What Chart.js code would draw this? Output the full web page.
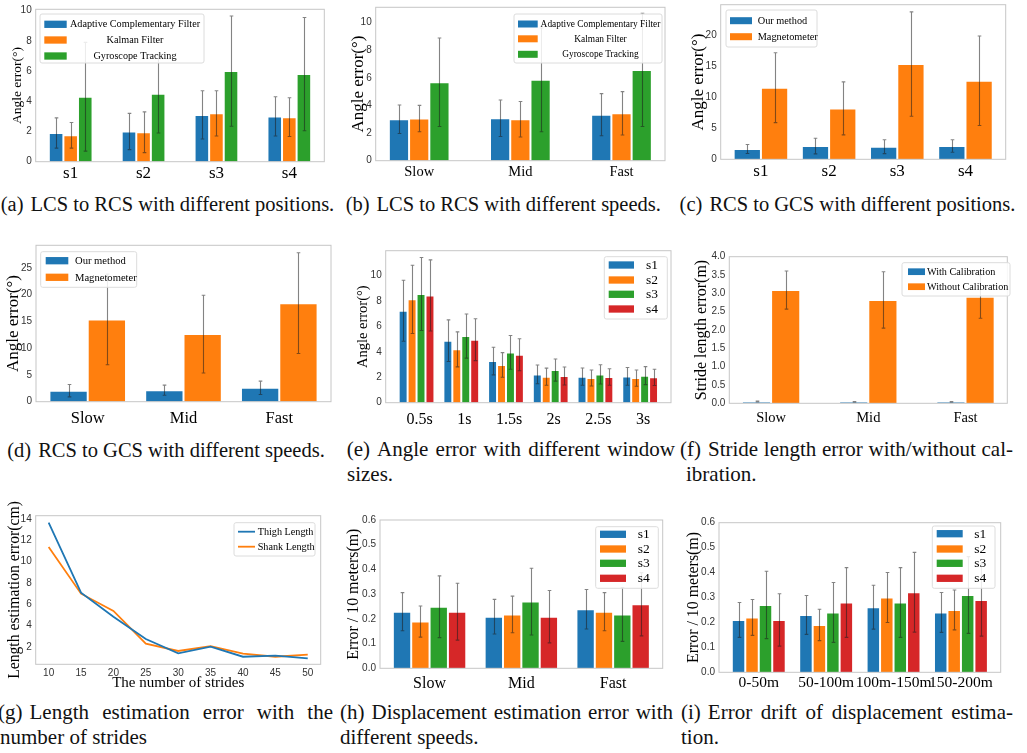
<!DOCTYPE html>
<html><head><meta charset="utf-8">
<script src="https://cdn.jsdelivr.net/npm/chart.js@4.4.1/dist/chart.umd.min.js"></script>
<style>
html,body{margin:0;padding:0;background:#fff;}
body{width:1027px;height:753px;overflow:hidden;position:relative;}
canvas{position:absolute;}
.cap{position:absolute;font-family:"Liberation Serif","Times New Roman",serif;font-size:21px;line-height:1;color:#111;white-space:nowrap;}
.c{text-align:center;width:400px;font-size:20.5px;}
.j{text-align:justify;text-align-last:justify;}
.l{margin-right:7px;}
</style></head><body>

<div class="cap c" style="left:-32.5px;top:193.8px"><span class="l">(a)</span>LCS to RCS with different positions.</div>
<div class="cap c" style="left:303.3px;top:193.8px"><span class="l">(b)</span>LCS to RCS with different speeds.</div>
<div class="cap c" style="left:647.5px;top:193.8px"><span class="l">(c)</span>RCS to GCS with different positions.</div>

<div class="cap c" style="left:-34px;top:439.8px"><span class="l">(d)</span>RCS to GCS with different speeds.</div>
<div class="cap j" style="left:346.7px;top:439.4px;width:328.3px"><span class="l">(e)</span>Angle error with different window</div>
<div class="cap" style="left:347px;top:464.4px">sizes.</div>
<div class="cap j" style="left:680px;top:439.4px;width:333px"><span class="l">(f)</span>Stride length error with/without cal-</div>
<div class="cap" style="left:686px;top:464.4px">ibration.</div>

<div class="cap j" style="left:-2px;top:702.4px;width:335px"><span class="l">(g)</span>Length estimation error with the</div>
<div class="cap" style="left:0px;top:727.4px">number of strides</div>
<div class="cap j" style="left:340px;top:702.4px;width:333px"><span class="l">(h)</span>Displacement estimation error with</div>
<div class="cap" style="left:340px;top:727.4px">different speeds.</div>
<div class="cap j" style="left:681px;top:702.4px;width:332px"><span class="l">(i)</span>Error drift of displacement estima-</div>
<div class="cap" style="left:681px;top:727.4px">tion.</div>

<script>
// ---------------- DATA ----------------
const posLabels = ['s1', 's2', 's3', 's4'];
const speedLabels = ['Slow', 'Mid', 'Fast'];
const windowLabels = ['0.5s', '1s', '1.5s', '2s', '2.5s', '3s'];
const driftLabels = ['0-50m', '50-100m', '100m-150m', '150-200m'];
const strideCounts = [10, 15, 20, 25, 30, 35, 40, 45, 50];

const filterNames = ['Adaptive Complementary Filter', 'Kalman Filter', 'Gyroscope Tracking'];
const headingNames = ['Our method', 'Magnetometer'];
const subjectNames = ['s1', 's2', 's3', 's4'];
const calibNames = ['With Calibration', 'Without Calibration'];
const lengthNames = ['Thigh Length', 'Shank Length'];

// (a) LCS to RCS, positions
const aACF = [1.9, 2.0, 3.1, 3.0];     const aACFErr = [1.0, 1.2, 1.6, 1.3];
const aKF  = [1.75, 1.95, 3.2, 2.95];  const aKFErr  = [0.85, 1.35, 1.5, 1.28];
const aGT  = [4.3, 4.5, 6.0, 5.8];     const aGTErr  = [3.6, 2.6, 3.65, 3.75];
// (b) LCS to RCS, speeds
const bACF = [3.0, 3.07, 3.33];        const bACFErr = [1.03, 1.32, 1.52];
const bKF  = [3.05, 3.0, 3.43];        const bKFErr  = [0.95, 1.28, 1.57];
const bGT  = [5.68, 5.85, 6.57];       const bGTErr  = [3.2, 3.75, 4.1];
// (c) RCS to GCS, positions
const cOur = [1.66, 2.14, 2.04, 2.14]; const cOurErr = [0.72, 1.26, 1.12, 1.0];
const cMag = [11.53, 8.2, 15.34, 12.65]; const cMagErr = [5.63, 4.27, 8.4, 7.2];
// (d) RCS to GCS, speeds
const dOur = [2.05, 2.15, 2.6];        const dOurErr = [1.15, 0.94, 1.25];
const dMag = [15.36, 12.62, 18.4];     const dMagErr = [8.45, 7.25, 9.4];
// (e) window sizes
const eS1 = [7.24, 4.88, 3.28, 2.23, 2.05, 2.07]; const eS1Err = [2.4, 1.64, 1.09, 0.74, 0.68, 0.7];
const eS2 = [8.14, 4.2, 2.97, 2.05, 1.94, 1.94];  const eS2Err = [2.69, 1.38, 0.97, 0.67, 0.63, 0.64];
const eS3 = [8.56, 5.25, 3.96, 2.57, 2.23, 2.13]; const eS3Err = [2.87, 1.74, 1.33, 0.87, 0.76, 0.71];
const eS4 = [8.45, 4.96, 3.78, 2.1, 2.02, 2.0];   const eS4Err = [2.8, 1.65, 1.26, 0.71, 0.65, 0.64];
// (f) stride length error
const fWith = [0.05, 0.04, 0.04];      const fWithErr = [0.01, 0.01, 0.01];
const fWithout = [3.09, 2.82, 2.91];   const fWithoutErr = [0.52, 0.77, 0.59];
// (g) length estimation error
const gThigh = [13.66, 7.09, 4.84, 2.75, 1.41, 2.03, 1.09, 1.19, 0.94];
const gShank = [11.38, 7.0, 5.38, 2.31, 1.63, 2.09, 1.38, 1.09, 1.28];
// (h) displacement error, speeds
const hS1 = [0.229, 0.209, 0.239]; const hS1Err = [0.077, 0.07, 0.08];
const hS2 = [0.189, 0.218, 0.229]; const hS2Err = [0.063, 0.074, 0.077];
const hS3 = [0.249, 0.27, 0.218];  const hS3Err = [0.125, 0.135, 0.109];
const hS4 = [0.229, 0.209, 0.259]; const hS4Err = [0.115, 0.106, 0.128];
// (i) error drift
const iS1 = [0.21, 0.23, 0.261, 0.24];  const iS1Err = [0.07, 0.078, 0.088, 0.08];
const iS2 = [0.22, 0.19, 0.3, 0.25];    const iS2Err = [0.072, 0.063, 0.1, 0.08];
const iS3 = [0.27, 0.24, 0.28, 0.31];   const iS3Err = [0.135, 0.12, 0.14, 0.154];
const iS4 = [0.21, 0.28, 0.321, 0.29];  const iS4Err = [0.105, 0.14, 0.16, 0.145];

// ---------------- STYLE ----------------
const COL = { blue: '#1f77b4', orange: '#ff7f0e', green: '#2ca02c', red: '#d62728' };
const SERIF = '"Liberation Serif", "Times New Roman", serif';
const SANS = '"Liberation Sans", Arial, sans-serif';

const decorPlugin = {
  id: 'decor',
  afterDatasetsDraw(chart) {
    const o = chart.options.plugins.decor;
    const ctx = chart.ctx;
    const a = chart.chartArea;
    const ys = chart.scales.y;
    // error bars
    ctx.save();
    ctx.beginPath(); ctx.rect(a.left, a.top, a.right - a.left, a.bottom - a.top); ctx.clip();
    chart.data.datasets.forEach((ds, di) => {
      if (!ds.err) return;
      const meta = chart.getDatasetMeta(di);
      ctx.strokeStyle = 'rgba(30,30,30,0.55)';
      ctx.lineWidth = 1.1;
      meta.data.forEach((bar, i) => {
        const v = ds.data[i], e = ds.err[i];
        const x = Math.round(bar.x) + 0.5;
        const y1 = ys.getPixelForValue(v - e), y2 = ys.getPixelForValue(v + e);
        const cap = 1.8;
        ctx.beginPath();
        ctx.moveTo(x, y1); ctx.lineTo(x, y2);
        ctx.moveTo(x - cap, y1); ctx.lineTo(x + cap, y1);
        ctx.moveTo(x - cap, y2); ctx.lineTo(x + cap, y2);
        ctx.stroke();
      });
    });
    ctx.restore();
    // frame
    ctx.save();
    ctx.strokeStyle = '#c6c6c6';
    ctx.lineWidth = 1;
    ctx.strokeRect(a.left, a.top, a.right - a.left, a.bottom - a.top);
    ctx.restore();
    // legend
    const L = o.legend;
    if (!L) return;
    const ox = o.origin[0], oy = o.origin[1];
    ctx.save();
    const bx = L.box[0] - ox, by = L.box[1] - oy, bw = L.box[2] - L.box[0], bh = L.box[3] - L.box[1];
    ctx.beginPath();
    if (ctx.roundRect) ctx.roundRect(bx, by, bw, bh, 2); else ctx.rect(bx, by, bw, bh);
    ctx.fillStyle = 'rgba(255,255,255,0.85)';
    ctx.fill();
    ctx.strokeStyle = '#dcdcdc';
    ctx.lineWidth = 1;
    ctx.stroke();
    L.rows.forEach((ry, k) => {
      const ds = chart.data.datasets[k];
      const y = ry - oy;
      const px = L.patch[0] - ox;
      if (L.type === 'line') {
        ctx.strokeStyle = ds.borderColor;
        ctx.lineWidth = 1.8;
        ctx.beginPath(); ctx.moveTo(px, y); ctx.lineTo(px + L.patch[1], y); ctx.stroke();
      } else {
        ctx.fillStyle = ds.backgroundColor;
        ctx.fillRect(px, y - L.patch[2] / 2, L.patch[1], L.patch[2]);
      }
      ctx.fillStyle = '#000';
      ctx.font = L.size + 'px ' + SERIF;
      ctx.textBaseline = 'middle';
      ctx.textAlign = L.align;
      ctx.fillText(ds.label, L.textX - ox, y + 0.5);
    });
    ctx.restore();
  }
};

function makeCanvas(spec) {
  const cv = document.createElement('canvas');
  const left = spec.col[0], top = spec.top;
  const w = spec.col[1] - spec.col[0];
  const h = Math.ceil(spec.plot[3] - top + spec.hx);
  cv.width = w; cv.height = h;
  cv.style.left = left + 'px'; cv.style.top = top + 'px';
  cv.style.width = w + 'px'; cv.style.height = h + 'px';
  document.body.appendChild(cv);
  return { cv, w, h };
}

function commonScales(spec, geo) {
  const [pl, pt, pr, pb] = spec.plot;
  const yW = pl - spec.col[0];
  const xH = geo.h - (pb - spec.top);
  const t = spec.ytitle;
  return {
    padding: { left: 0, top: pt - spec.top, right: geo.w - (pr - spec.col[0]), bottom: 0 },
    y: {
      min: spec.ymin || 0, max: spec.ymax,
      grid: { display: false, drawTicks: false }, border: { display: false },
      ticks: {
        stepSize: spec.ystep, includeBounds: false, padding: 4,
        color: '#333', font: { family: SANS, size: 10 },
        callback: spec.yfmt ? (v) => v.toFixed(spec.yfmt) : (v) => String(v)
      },
      title: {
        display: true, text: t.text, color: '#000',
        font: { family: SERIF, size: t.size, lineHeight: 1 },
        padding: { top: t.cx - t.size / 2, bottom: 0 }
      },
      afterFit(s) { s.width = yW; s.paddingTop = 0; s.paddingBottom = 0; }
    },
    xH
  };
}

function barChart(spec, labels, series) {
  const geo = makeCanvas(spec);
  const cs = commonScales(spec, geo);
  const n = labels.length;
  const g = spec.group;
  const m = g / 2 + 0.05 * (n - 1 + g);
  const datasets = series.map((s) => ({
    label: s.label, data: s.data, err: s.err,
    backgroundColor: s.color,
    borderColor: 'rgba(255,255,255,0.35)', borderWidth: 1, borderSkipped: 'start'
  }));
  return new Chart(geo.cv, {
    type: 'bar',
    data: { labels, datasets },
    plugins: [decorPlugin],
    options: {
      responsive: false, animation: false, devicePixelRatio: 1,
      layout: { padding: cs.padding },
      datasets: { bar: { categoryPercentage: g, barPercentage: 1 } },
      plugins: {
        legend: { display: false }, tooltip: { enabled: false },
        decor: { origin: [spec.col[0], spec.top], legend: spec.legend }
      },
      scales: {
        x: {
          grid: { display: false, drawTicks: false }, border: { display: false },
          ticks: {
            color: '#000', font: { family: SERIF, size: spec.xsize },
            padding: spec.xpad, maxRotation: 0, minRotation: 0, autoSkip: false,
            labelOffset: spec.xoff || 0
          },
          afterBuildTicks(s) { s._startValue = -m; s._valueRange = n - 1 + 2 * m; },
          afterFit(s) { s.height = cs.xH; s.paddingLeft = 0; s.paddingRight = 0; }
        },
        y: cs.y
      }
    }
  });
}

// ---------------- PANELS ----------------
barChart({
  col: [0, 340], top: 0, plot: [35.7, 9.3, 324.3, 161.7], hx: 26,
  ymax: 10.09, ystep: 2, group: 0.6, xsize: 17, xpad: 2,
  ytitle: { text: 'Angle error(°)', size: 13.5, cx: 17 },
  legend: { box: [40, 14, 204, 63], rows: [24.3, 40, 56], patch: [44.3, 22.4, 7.3], textX: 135, align: 'center', size: 10.2 }
}, posLabels, [
  { label: filterNames[0], data: aACF, err: aACFErr, color: COL.blue },
  { label: filterNames[1], data: aKF, err: aKFErr, color: COL.orange },
  { label: filterNames[2], data: aGT, err: aGTErr, color: COL.green }
]);

barChart({
  col: [340, 680], top: 0, plot: [375.7, 7.3, 665, 160.7], hx: 26,
  ymax: 11.1, ystep: 2, group: 0.6, xsize: 14.5, xpad: 3,
  ytitle: { text: 'Angle error(°)', size: 17, cx: 18.5 },
  legend: { box: [514, 14, 662, 63], rows: [24, 38.8, 54.3], patch: [518, 19.7, 7], textX: 600.5, align: 'center', size: 9.4 }
}, speedLabels, [
  { label: filterNames[0], data: bACF, err: bACFErr, color: COL.blue },
  { label: filterNames[1], data: bKF, err: bKFErr, color: COL.orange },
  { label: filterNames[2], data: bGT, err: bGTErr, color: COL.green }
]);

barChart({
  col: [680, 1027], top: 0, plot: [720.7, 4.7, 1005.7, 159.3], hx: 26,
  ymax: 24.9, ystep: 5, group: 0.8, xsize: 17, xpad: 2,
  ytitle: { text: 'Angle error(°)', size: 17, cx: 18.5 },
  legend: { box: [726, 10, 817, 47], rows: [20.7, 36.7], patch: [730, 22, 7], textX: 757.7, align: 'left', size: 10.3 }
}, posLabels, [
  { label: headingNames[0], data: cOur, err: cOurErr, color: COL.blue },
  { label: headingNames[1], data: cMag, err: cMagErr, color: COL.orange }
]);

barChart({
  col: [0, 340], top: 235, plot: [36, 245.3, 331, 401.7], hx: 28,
  ymax: 29.2, ystep: 5, group: 0.8, xsize: 16.5, xpad: 7,
  ytitle: { text: 'Angle error(°)', size: 17, cx: 13.5 },
  legend: { box: [40.7, 251.7, 136.7, 287.3], rows: [260.7, 277.3], patch: [45.7, 22.6, 7.3], textX: 75, align: 'left', size: 10.6 }
}, speedLabels, [
  { label: headingNames[0], data: dOur, err: dOurErr, color: COL.blue },
  { label: headingNames[1], data: dMag, err: dMagErr, color: COL.orange }
]);

barChart({
  col: [340, 680], top: 235, plot: [385.7, 250.7, 671, 402.7], hx: 28,
  ymax: 11.97, ystep: 2, group: 0.8, xsize: 16, xpad: 7, xoff: 3,
  ytitle: { text: 'Angle error(°)', size: 14.5, cx: 23.5 },
  legend: { box: [604.3, 256.7, 667.3, 319], rows: [265, 280, 294.3, 309], patch: [608.7, 25.3, 7.3], textX: 646, align: 'left', size: 13.5 }
}, windowLabels, [
  { label: subjectNames[0], data: eS1, err: eS1Err, color: COL.blue },
  { label: subjectNames[1], data: eS2, err: eS2Err, color: COL.orange },
  { label: subjectNames[2], data: eS3, err: eS3Err, color: COL.green },
  { label: subjectNames[3], data: eS4, err: eS4Err, color: COL.red }
]);

barChart({
  col: [680, 1027], top: 235, plot: [729.3, 256.7, 1007.3, 403.3], hx: 28,
  ymax: 4.0, ystep: 0.5, yfmt: 1, group: 0.6, xsize: 14.5, xpad: 6,
  ytitle: { text: 'Stride length error(m)', size: 16, cx: 21.5 },
  legend: { box: [902, 262.7, 1010, 296], rows: [271.7, 286.7], patch: [908, 17, 6.7], textX: 927, align: 'left', size: 10.2 }
}, speedLabels, [
  { label: calibNames[0], data: fWith, err: fWithErr, color: COL.blue },
  { label: calibNames[1], data: fWithout, err: fWithoutErr, color: COL.orange }
]);

// (g) line chart
(function () {
  const spec = {
    col: [0, 340], top: 500, plot: [35.7, 515.7, 320.7, 664.3], hx: 30,
    ymin: 0.38, ymax: 14.31, ystep: 2,
    ytitle: { text: 'Length estimation error(cm)', size: 15.7, cx: 14.5 },
    legend: { type: 'line', box: [234, 522.7, 315, 556], rows: [531.7, 546.7], patch: [238, 17, 0], textX: 257.7, align: 'left', size: 10.2 }
  };
  const geo = makeCanvas(spec);
  const cs = commonScales(spec, geo);
  new Chart(geo.cv, {
    type: 'line',
    data: {
      datasets: [
        { label: lengthNames[0], data: strideCounts.map((c, i) => ({ x: c, y: gThigh[i] })), borderColor: COL.blue, borderWidth: 1.8, pointRadius: 0, tension: 0, fill: false },
        { label: lengthNames[1], data: strideCounts.map((c, i) => ({ x: c, y: gShank[i] })), borderColor: COL.orange, borderWidth: 1.8, pointRadius: 0, tension: 0, fill: false }
      ]
    },
    plugins: [decorPlugin],
    options: {
      responsive: false, animation: false, devicePixelRatio: 1,
      layout: { padding: cs.padding },
      plugins: {
        legend: { display: false }, tooltip: { enabled: false },
        decor: { origin: [spec.col[0], spec.top], legend: spec.legend }
      },
      scales: {
        x: {
          type: 'linear', min: 8, max: 52,
          grid: { display: false, drawTicks: false }, border: { display: false },
          ticks: { stepSize: 5, includeBounds: false, color: '#333', font: { family: SANS, size: 10 }, padding: 3, maxRotation: 0 },
          title: { display: true, text: 'The number of strides', color: '#000', font: { family: SERIF, size: 15, lineHeight: 1 }, padding: { top: 0, bottom: 4 } },
          afterFit(s) { s.height = cs.xH; s.paddingLeft = 0; s.paddingRight = 0; }
        },
        y: cs.y
      }
    }
  });
})();

barChart({
  col: [340, 680], top: 500, plot: [380, 520, 662.7, 668.3], hx: 26,
  ymax: 0.6, ystep: 0.1, yfmt: 1, group: 0.8, xsize: 16, xpad: 5.5,
  ytitle: { text: 'Error / 10 meters(m)', size: 15.9, cx: 13.5 },
  legend: { box: [595.7, 526.7, 658.3, 588.3], rows: [534.3, 549, 563.3, 578.3], patch: [600, 26, 7.3], textX: 637.7, align: 'left', size: 13.5 }
}, speedLabels, [
  { label: subjectNames[0], data: hS1, err: hS1Err, color: COL.blue },
  { label: subjectNames[1], data: hS2, err: hS2Err, color: COL.orange },
  { label: subjectNames[2], data: hS3, err: hS3Err, color: COL.green },
  { label: subjectNames[3], data: hS4, err: hS4Err, color: COL.red }
]);

barChart({
  col: [680, 1027], top: 500, plot: [719, 522.7, 1000.7, 672.3], hx: 26,
  ymax: 0.6, ystep: 0.1, yfmt: 1, group: 0.8, xsize: 15.5, xpad: 1,
  ytitle: { text: 'Error / 10 meters(m)', size: 15.9, cx: 13.5 },
  legend: { box: [932.3, 526, 995, 588.3], rows: [533.7, 549, 563.3, 578.3], patch: [936.7, 26, 7.3], textX: 974.3, align: 'left', size: 13.5 }
}, driftLabels, [
  { label: subjectNames[0], data: iS1, err: iS1Err, color: COL.blue },
  { label: subjectNames[1], data: iS2, err: iS2Err, color: COL.orange },
  { label: subjectNames[2], data: iS3, err: iS3Err, color: COL.green },
  { label: subjectNames[3], data: iS4, err: iS4Err, color: COL.red }
]);
</script>
</body></html>
